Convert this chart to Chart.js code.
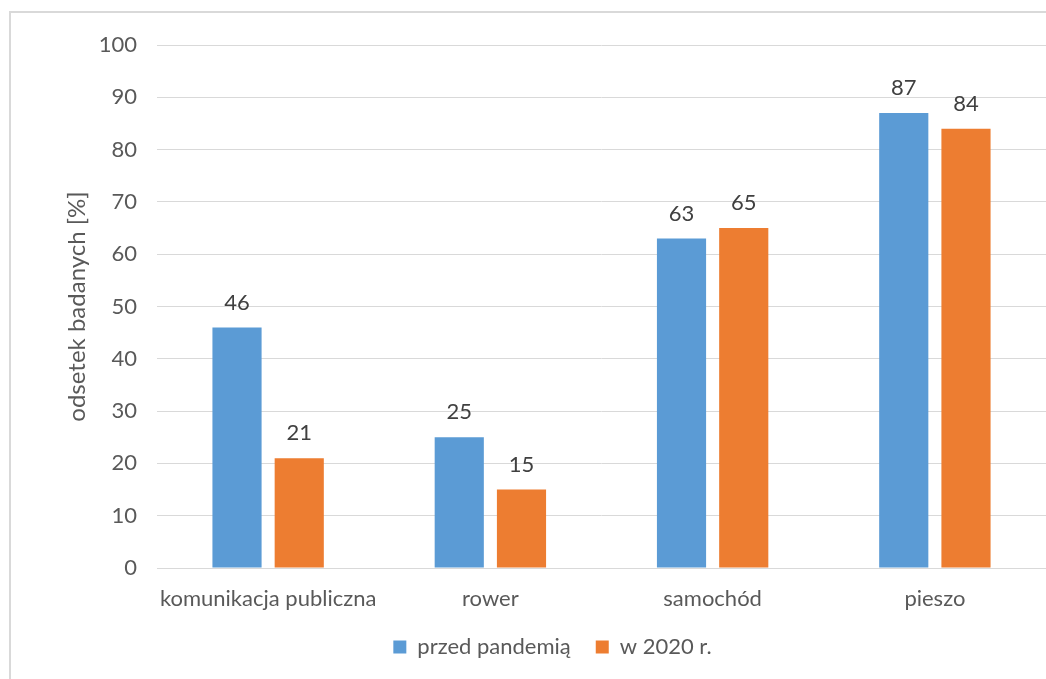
<!DOCTYPE html>
<html>
<head>
<meta charset="utf-8">
<script src="https://cdn.jsdelivr.net/npm/chart.js@4"></script>
<style>
  html, body { margin: 0; padding: 0; background: #fff; }
  #wrap { position: relative; width: 1046px; height: 679px; overflow: hidden; }
  #frame { position: absolute; left: 9px; top: 11px; width: 1100px; height: 700px;
           border-left: 2px solid #d9d9d9; border-top: 2px solid #d9d9d9; }
  canvas { position: absolute; left: 0; top: 0; }
</style>
</head>
<body>
<div id="wrap">
  <div id="frame"></div>
  <canvas id="grafico" width="1046" height="679"></canvas>
</div>
<script>
const categories = ['komunikacja publiczna', 'rower', 'samochód', 'pieszo']
const przedPandemia = [46, 25, 63, 87]
const w2020 = [21, 15, 65, 84]
const yTicks = [0, 10, 20, 30, 40, 50, 60, 70, 80, 90, 100]

const fontFamily = 'Lato, "Open Sans", sans-serif'
const textColor = '#595959'

// value labels above each bar
const valueLabels = {
    id: 'valueLabels',
    afterDatasetsDraw(chart) {
        const ctx = chart.ctx
        ctx.save()
        ctx.font = '22px ' + fontFamily
        ctx.fillStyle = '#404040'
        ctx.textAlign = 'center'
        ctx.textBaseline = 'bottom'
        chart.data.datasets.forEach((ds, i) => {
            chart.getDatasetMeta(i).data.forEach((bar, j) => {
                ctx.fillText(ds.data[j], bar.x, bar.y - 14)
            })
        })
        ctx.restore()
    }
}

new Chart(document.getElementById('grafico'), {
    type: 'bar',
    data: {
        labels: categories,
        datasets: [
            { label: 'przed pandemią', data: przedPandemia, backgroundColor: '#5B9BD5' },
            { label: 'w 2020 r.', data: w2020, backgroundColor: '#ED7D31' }
        ]
    },
    options: {
        responsive: false,
        animation: false,
        categoryPercentage: 0.56,
        barPercentage: 0.79,
        layout: { padding: { left: 59, top: 45, right: 0, bottom: 11 } },
        plugins: {
            legend: {
                position: 'bottom',
                labels: {
                    boxWidth: 13, boxHeight: 13, padding: 25,
                    color: textColor, font: { size: 22, family: fontFamily }
                }
            },
            tooltip: { enabled: false }
        },
        scales: {
            x: {
                grid: { display: false, drawTicks: false },
                border: { display: true, color: '#d9d9d9' },
                ticks: {
                    color: textColor, padding: 18, maxRotation: 0, minRotation: 0, autoSkip: false,
                    font: { size: 22, family: fontFamily }
                },
                afterFit: s => { s.height = 43 }
            },
            y: {
                min: 0, max: 100,
                afterBuildTicks: s => { s.ticks = yTicks.map(v => ({ value: v })) },
                grid: { color: '#d9d9d9', drawTicks: false },
                border: { display: false },
                ticks: { color: textColor, padding: 20, font: { size: 22, family: fontFamily } },
                title: {
                    display: true, text: 'odsetek badanych [%]',
                    color: textColor, font: { size: 24, family: fontFamily }
                },
                afterFit: s => { s.width = 98 }
            }
        }
    },
    plugins: [valueLabels]
})
</script>
</body>
</html>
